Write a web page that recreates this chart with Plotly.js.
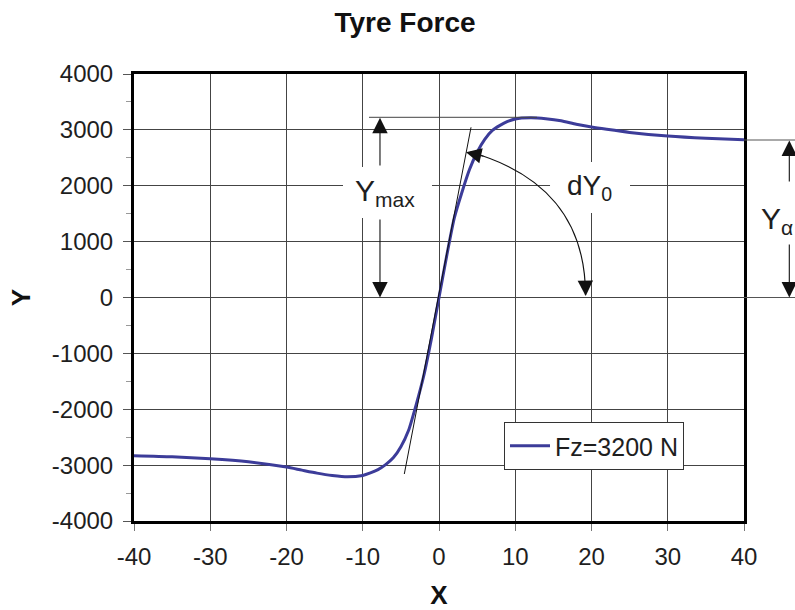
<!DOCTYPE html>
<html>
<head>
<meta charset="utf-8">
<script src="https://cdn.plot.ly/plotly-3.0.1.min.js"></script>
<style>html,body{margin:0;padding:0;background:#fff;}#chart{width:795px;height:610px;}</style>
</head>
<body>
<div id="chart"></div>
<script>
// Slip (X) and lateral force (Y)
const slipX = [-40, -35, -30, -25, -20, -18, -16, -14, -12, -10, -9, -8, -7, -6, -5, -4, -3, -2, -1, 0,
               1, 2, 3, 4, 5, 6, 7, 8, 9, 10, 12, 14, 16, 18, 20, 22, 25, 30, 35, 40];
const forceY = [-2830, -2850, -2885, -2940, -3035, -3090, -3143, -3185, -3209, -3185, -3140, -3080, -2990, -2870, -2670, -2380, -1920, -1400, -740, 0,
                740, 1420, 1880, 2290, 2600, 2830, 2990, 3080, 3150, 3195, 3215, 3200, 3165, 3100, 3050, 3010, 2955, 2890, 2850, 2825];
const seriesName = 'Fz=3200 N';
const xTicks = [-40, -30, -20, -10, 0, 10, 20, 30, 40];
const yTicks = [-4000, -3000, -2000, -1000, 0, 1000, 2000, 3000, 4000];

const FONT = 'Liberation Sans, Arial, sans-serif';
const txt = '#1e1e1e';

const trace = {
  x: slipX, y: forceY, type: 'scatter', mode: 'lines', name: seriesName,
  line: {color: '#3c3c99', width: 3, shape: 'spline', smoothing: 0.6}
};

// pixel helpers for paper-referenced decorations (plot: x 134..744, y 74..521)
const PL = 134, PR = 744, PT = 74, PB = 521;
const px2paperX = p => (p - PL) / (PR - PL);
const px2paperY = p => (PB - p) / (PB - PT);

const arrowBase = {text: '', showarrow: true, arrowhead: 2, arrowsize: 2.8, arrowwidth: 1.1, arrowcolor: '#111', standoff: 0};

const layout = {
  width: 795, height: 610,
  margin: {l: PL, r: 795 - PR, t: PT, b: 610 - PB, pad: 0},
  paper_bgcolor: '#fff', plot_bgcolor: '#fff',
  showlegend: true,
  title: {text: '<b>Tyre Force</b>', font: {family: FONT, size: 28, color: '#111'},
          x: 405 / 795, xref: 'container', xanchor: 'center', y: 1 - 22 / 610, yref: 'container', yanchor: 'middle'},
  xaxis: {
    range: [-40, 40], tickvals: xTicks, ticktext: xTicks.map(String),
    showgrid: true, gridcolor: '#444', gridwidth: 1, zeroline: false,
    showline: true, linecolor: '#000', linewidth: 3, mirror: true,
    ticks: 'outside', ticklen: 7, tickcolor: '#777', tickwidth: 1,
    tickfont: {family: FONT, size: 24, color: txt}, ticklabelstandoff: 5,
    title: {text: '<b>X</b>', font: {family: FONT, size: 26, color: '#111'}, standoff: 22}
  },
  yaxis: {
    range: [-4000, 4000], tickvals: yTicks, ticktext: yTicks.map(String),
    showgrid: true, gridcolor: '#444', gridwidth: 1, zeroline: false,
    showline: true, linecolor: '#000', linewidth: 3, mirror: true,
    ticks: 'outside', ticklen: 8, tickcolor: '#555', tickwidth: 1,
    minor: {dtick: 500, ticks: 'outside', ticklen: 5, tickcolor: '#999', showgrid: false},
    tickfont: {family: FONT, size: 24, color: txt}, ticklabelstandoff: 5,
    title: {text: '<b>Y</b>', font: {family: FONT, size: 26, color: '#111'}, standoff: 14}
  },
  legend: {
    x: px2paperX(504), y: px2paperY(422), xanchor: 'left', yanchor: 'top',
    bgcolor: '#fff', bordercolor: '#333', borderwidth: 1, itemwidth: 40,
    entrywidth: 140, entrywidthmode: 'pixels',
    font: {family: FONT, size: 25, color: txt}
  },
  shapes: [
    // white boxes behind the labels (hide gridlines only)
    {type: 'rect', layer: 'between', xref: 'x', yref: 'y', x0: -12.59, x1: -0.92, y0: 1423, y1: 2336, fillcolor: '#fff', line: {width: 0}},
    {type: 'rect', layer: 'between', xref: 'x', yref: 'y', x0: 14.56, x1: 25.05, y0: 1512, y1: 2425, fillcolor: '#fff', line: {width: 0}},
    // tangent line dY0
    {type: 'line', xref: 'x', yref: 'y', x0: -4.55, y0: -3159, x1: 4.2, y1: 3046, line: {color: '#111', width: 1}},
    // Ymax reference line
    {type: 'line', xref: 'x', yref: 'y', x0: -9.18, y0: 3225, x1: 12.85, y1: 3225, line: {color: '#444', width: 1}},
    // curved dY0 arrow
    {type: 'path', xref: 'x', yref: 'y', path: 'M 4.07,2604 C 13.6,2240 19.21,1420 19.21,45', line: {color: '#111', width: 1.2}},
    // Y alpha reference lines outside the plot
    {type: 'line', xref: 'paper', yref: 'paper', x0: 1.0, x1: px2paperX(795), y0: px2paperY(140), y1: px2paperY(140), line: {color: '#555', width: 1}},
    {type: 'line', xref: 'paper', yref: 'paper', x0: 1.0, x1: px2paperX(795), y0: 0.5, y1: 0.5, line: {color: '#555', width: 1}}
  ],
  annotations: [
    // Ymax double arrow
    Object.assign({}, arrowBase, {xref: 'x', yref: 'y', axref: 'x', ayref: 'y', x: -7.74, y: 3215, ax: -7.74, ay: 2336}),
    Object.assign({}, arrowBase, {xref: 'x', yref: 'y', axref: 'x', ayref: 'y', x: -7.74, y: 0, ax: -7.74, ay: 1423}),
    {xref: 'x', yref: 'y', x: -7.1, y: 1879, text: 'Y<sub>max</sub>', showarrow: false,
     font: {family: FONT, size: 30, color: txt}},
    // dY0 arc heads
    Object.assign({}, arrowBase, {xref: 'x', yref: 'y', axref: 'x', ayref: 'y', x: 3.54, y: 2599, ax: 6.03, ay: 2523}),
    Object.assign({}, arrowBase, {xref: 'x', yref: 'y', axref: 'x', ayref: 'y', x: 19.24, y: 27, ax: 19.19, ay: 313}),
    {xref: 'x', yref: 'y', x: 19.8, y: 1969, text: 'dY<sub>0</sub>', showarrow: false,
     font: {family: FONT, size: 28, color: txt}},
    // Y alpha double arrow
    Object.assign({}, arrowBase, {xref: 'paper', yref: 'paper', axref: 'paper', ayref: 'paper', x: px2paperX(789.3), y: px2paperY(140.5), ax: px2paperX(789.3), ay: px2paperY(183)}),
    Object.assign({}, arrowBase, {xref: 'paper', yref: 'paper', axref: 'paper', ayref: 'paper', x: px2paperX(789.3), y: 0.5, ax: px2paperX(789.3), ay: px2paperY(243)}),
    {xref: 'paper', yref: 'paper', x: px2paperX(759), y: px2paperY(220), xanchor: 'left', yanchor: 'middle', text: 'Y<sub>α</sub>', showarrow: false,
     font: {family: FONT, size: 30, color: txt}}
  ]
};

Plotly.newPlot('chart', [trace], layout, {staticPlot: true, displayModeBar: false});
</script>
</body>
</html>
